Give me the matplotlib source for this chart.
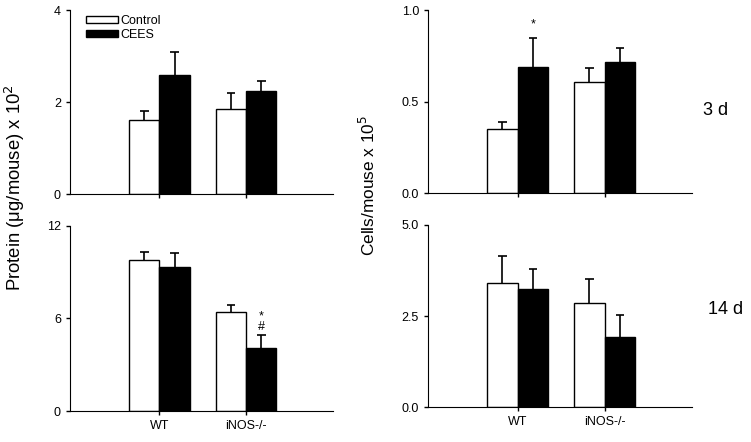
import matplotlib.pyplot as plt
import numpy as np
from matplotlib.patches import Patch

plt.rcParams["font.family"] = ["Liberation Sans", "DejaVu Sans"]

groups = ["WT", "iNOS-/-"]
# protein, 3 d and 14 d (x 10^2 ug/mouse)
protein_3d_ctrl = [1.61, 1.86]
protein_3d_ctrl_err = [0.19, 0.34]
protein_3d_cees = [2.58, 2.25]
protein_3d_cees_err = [0.51, 0.21]
protein_14d_ctrl = [9.76, 6.45]
protein_14d_ctrl_err = [0.56, 0.44]
protein_14d_cees = [9.32, 4.08]
protein_14d_cees_err = [0.91, 0.88]
# cells, 3 d and 14 d (x 10^5 cells/mouse)
cells_3d_ctrl = [0.349, 0.605]
cells_3d_ctrl_err = [0.04, 0.077]
cells_3d_cees = [0.691, 0.718]
cells_3d_cees_err = [0.156, 0.075]
cells_14d_ctrl = [3.40, 2.85]
cells_14d_ctrl_err = [0.74, 0.68]
cells_14d_cees = [3.25, 1.92]
cells_14d_cees_err = [0.53, 0.60]


def panel(rect, ctrl, ctrl_err, cees, cees_err, yticks, yticklabels, show_x):
    ax = fig.add_axes(rect)
    x = np.arange(1, len(groups) + 1)
    w = 0.35
    for xs, vals, errs, col in [(x - w / 2, ctrl, ctrl_err, "white"),
                                (x + w / 2, cees, cees_err, "black")]:
        vals = np.array(vals)
        tops = vals + np.array(errs)
        ax.bar(xs, vals, width=w, color=col, edgecolor="black", linewidth=1.0, zorder=2)
        # upper error bar only, with a cap
        ax.vlines(xs, vals, tops, color="black", linewidth=1.2, zorder=1)
        ax.hlines(tops, xs - 0.05, xs + 0.05, color="black", linewidth=1.2, zorder=1)
    ax.set_xlim(-0.03, 3.0)
    ax.set_ylim(0, yticks[-1])
    ax.set_yticks(yticks)
    ax.set_yticklabels(yticklabels, fontsize=9)
    ax.set_xticks(x)
    if show_x:
        ax.set_xticklabels(groups, fontsize=9)
    else:
        ax.set_xticklabels([])
    ax.spines["top"].set_visible(False)
    ax.spines["right"].set_visible(False)
    ax.tick_params(direction="out", length=3, width=1)
    return ax


fig = plt.figure(figsize=(7.51, 4.42), dpi=100)

ax1 = panel([0.0932, 0.561, 0.350, 0.416], protein_3d_ctrl, protein_3d_ctrl_err,
            protein_3d_cees, protein_3d_cees_err, [0, 2, 4], ["0", "2", "4"], False)
ax2 = panel([0.0932, 0.070, 0.350, 0.419], protein_14d_ctrl, protein_14d_ctrl_err,
            protein_14d_cees, protein_14d_cees_err, [0, 6, 12], ["0", "6", "12"], True)
ax3 = panel([0.570, 0.563, 0.351, 0.414], cells_3d_ctrl, cells_3d_ctrl_err,
            cells_3d_cees, cells_3d_cees_err, [0, 0.5, 1.0], ["0.0", "0.5", "1.0"], False)
ax4 = panel([0.570, 0.079, 0.351, 0.412], cells_14d_ctrl, cells_14d_ctrl_err,
            cells_14d_cees, cells_14d_cees_err, [0, 2.5, 5.0], ["0.0", "2.5", "5.0"], True)

handles = [Patch(facecolor="white", edgecolor="black", label="Control"),
           Patch(facecolor="black", edgecolor="black", label="CEES")]
ax1.legend(handles=handles, loc="upper left", bbox_to_anchor=(0.04, 1.0), frameon=False,
           fontsize=9, handlelength=2.6, handleheight=0.45, labelspacing=0.15,
           handletextpad=0.2, borderaxespad=0)

# significance marks
ax3.text(1 + 0.175, cells_3d_cees[0] + cells_3d_cees_err[0] + 0.04, "*",
         ha="center", va="bottom", fontsize=9)
ax2.text(2 + 0.175, protein_14d_cees[1] + protein_14d_cees_err[1] + 0.1, "#",
         ha="center", va="bottom", fontsize=9)
ax2.text(2 + 0.175, protein_14d_cees[1] + protein_14d_cees_err[1] + 0.8, "*",
         ha="center", va="bottom", fontsize=9)

fig.text(0.02, 0.576, "Protein (\u03bcg/mouse) x 10$^2$", rotation=90,
         ha="center", va="center", fontsize=13.3)
fig.text(0.49, 0.581, "Cells/mouse x 10$^5$", rotation=90,
         ha="center", va="center", fontsize=12.4)
fig.text(0.936, 0.751, "3 d", ha="left", va="center", fontsize=13)
fig.text(0.943, 0.299, "14 d", ha="left", va="center", fontsize=13)

fig.savefig("out.png", dpi=100)
